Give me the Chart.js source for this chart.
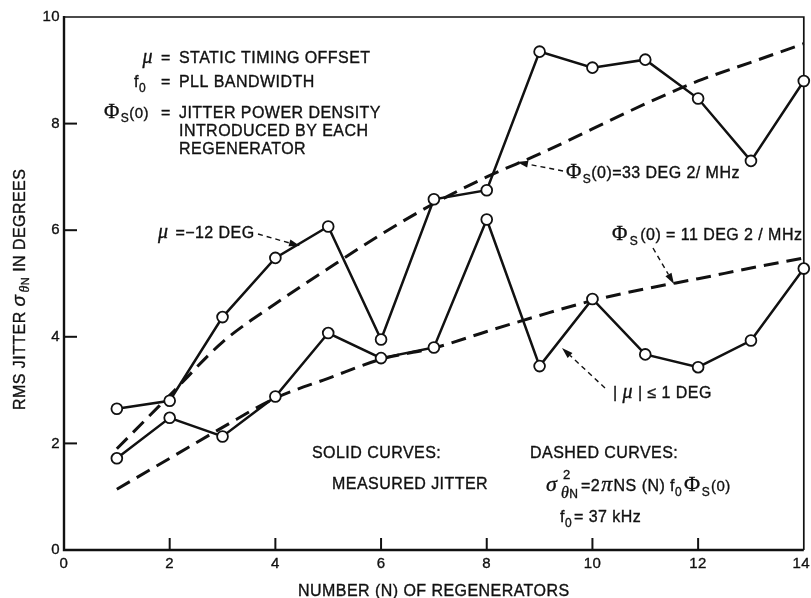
<!DOCTYPE html>
<html><head><meta charset="utf-8">
<script src="https://cdn.jsdelivr.net/npm/chart.js@4"></script>
<style>html,body{margin:0;padding:0;background:#fff;overflow:hidden}#wrap{width:811px;height:598px;position:relative}</style>
</head><body><div id="wrap"><canvas id="c" width="811" height="598"></canvas></div>
<script>
// ---- data ----
const regenerators = [1,2,3,4,5,6,7,8,9,10,11,12,13,14];
const jitterMuMinus12 = [2.65,2.8,4.37,5.48,6.07,3.95,6.58,6.75,9.35,9.05,9.2,8.47,7.3,8.8];
const jitterMuWithin1 = [1.72,2.48,2.13,2.88,4.07,3.6,3.8,6.2,3.45,4.71,3.67,3.43,3.93,5.28];
const theory33 = [1.9,2.9,3.9,4.62,5.28,5.92,6.5,7.0,7.43,7.9,8.37,8.8,9.15,9.5];
const theory11 = [1.14,1.72,2.3,2.85,3.22,3.58,3.79,4.1,4.4,4.68,4.9,5.09,5.29,5.48];
const xTickValues = [0,2,4,6,8,10,12,14];
const yTickValues = [0,2,4,6,8,10];

const INK = '#111';
const SANS = "'Liberation Sans', Arial, Helvetica, sans-serif";
const SERIF = "'Liberation Serif', 'Times New Roman', serif";

function pts(ys){ return regenerators.map((n,i)=>({x:n,y:ys[i]})); }

function txt(ctx, s, x, y){
  ctx.fillText(s, x, y);
  ctx.strokeText(s, x, y);
}
function runs(ctx, x, y, parts){
  // parts: [text, font, dy, extraGap]
  let cx = x;
  for (const p of parts){
    ctx.font = p[1];
    txt(ctx, p[0], cx, y + (p[2]||0));
    cx += ctx.measureText(p[0]).width + (p[3]||0);
  }
  return cx;
}
function runsWidth(ctx, parts){
  let w=0; for (const p of parts){ ctx.font=p[1]; w+=ctx.measureText(p[0]).width+(p[3]||0);} return w;
}
function arrow(ctx, x1,y1,x2,y2){
  ctx.save();
  ctx.strokeStyle=INK; ctx.fillStyle=INK; ctx.lineWidth=1.4; ctx.setLineDash([5,4]);
  const a=Math.atan2(y2-y1,x2-x1), L=11, W=3.5;
  const bx=x2-L*Math.cos(a), by=y2-L*Math.sin(a);
  ctx.beginPath(); ctx.moveTo(x1,y1); ctx.lineTo(bx,by); ctx.stroke();
  ctx.setLineDash([]);
  ctx.beginPath(); ctx.moveTo(x2,y2);
  ctx.lineTo(bx+W*Math.sin(a), by-W*Math.cos(a));
  ctx.lineTo(bx-W*Math.sin(a), by+W*Math.cos(a));
  ctx.closePath(); ctx.fill();
  ctx.restore();
}
function textStyle(ctx){
  ctx.fillStyle=INK; ctx.strokeStyle=INK; ctx.lineWidth=0.35; ctx.setLineDash([]);
  ctx.letterSpacing='0.45px';
}

const frame = {
  id:'frame',
  beforeDatasetsDraw(chart){
    const {ctx, chartArea:a, scales:{x,y}} = chart;
    ctx.save();
    ctx.strokeStyle=INK; ctx.fillStyle=INK;
    // box
    ctx.lineWidth=1.7;
    ctx.beginPath(); ctx.moveTo(a.left,a.top); ctx.lineTo(a.right,a.top); ctx.lineTo(a.right,a.bottom); ctx.stroke();
    ctx.lineWidth=2.4;
    ctx.beginPath(); ctx.moveTo(a.left,a.top-1); ctx.lineTo(a.left,a.bottom); ctx.lineTo(a.right,a.bottom); ctx.stroke();
    // inward ticks
    ctx.lineWidth=2;
    for (const t of y.ticks){ if(t.value<=y.min||t.value>=y.max) continue; const py=y.getPixelForValue(t.value);
      ctx.beginPath(); ctx.moveTo(a.left,py); ctx.lineTo(a.left+13,py); ctx.stroke(); }
    for (const t of x.ticks){ if(t.value<=x.min||t.value>=x.max) continue; const px=x.getPixelForValue(t.value);
      ctx.beginPath(); ctx.moveTo(px,a.bottom); ctx.lineTo(px,a.bottom-12); ctx.stroke(); }
    // tick labels
    textStyle(ctx);
    ctx.font='15px '+SANS;
    ctx.textAlign='right'; ctx.textBaseline='middle';
    for (const t of y.ticks){ txt(ctx, String(t.value), a.left-4, y.getPixelForValue(t.value)); }
    ctx.textAlign='center'; ctx.textBaseline='alphabetic';
    for (const t of x.ticks){ const s=String(t.value); const w=ctx.measureText(s).width;
      let px=x.getPixelForValue(t.value); px=Math.min(px, 810-w/2); txt(ctx, s, px, 568); }
    // axis titles
    ctx.textAlign='left';
    ctx.font='16px '+SANS;
    txt(ctx, 'NUMBER (N) OF REGENERATORS', 298, 596);
    ctx.save(); ctx.translate(25,410); ctx.rotate(-Math.PI/2);
    runs(ctx,0,0,[['RMS JITTER ','16px '+SANS],['σ','italic 19px '+SANS,0,2],['θ','italic 14px '+SERIF,4],['N','11px '+SANS,4],[' IN DEGREES','16px '+SANS]]);
    ctx.restore();
    ctx.restore();
  },
  afterDatasetsDraw(chart){
    const ctx=chart.ctx;
    ctx.save(); textStyle(ctx); ctx.textAlign='left'; ctx.textBaseline='alphabetic';
    const F='16px '+SANS;
    // legend block top-left
    let w;
    w=runsWidth(ctx,[['μ','italic 20px '+SERIF]]); runs(ctx,153-w,63,[['μ','italic 20px '+SERIF]]);
    ctx.font=F; txt(ctx,'=',161,63); txt(ctx,'STATIC TIMING OFFSET',179,63);
    runs(ctx,134,87,[['f',F],['0','12px '+SANS,5]]);
    ctx.font=F; txt(ctx,'=',161,87); txt(ctx,'PLL BANDWIDTH',179,87);
    runs(ctx,104,118,[['Φ','21px '+SERIF,0,1],['S','12px '+SANS,4],['(0)','15px '+SANS]]);
    ctx.font=F; txt(ctx,'=',161,118); txt(ctx,'JITTER POWER DENSITY',179,118);
    txt(ctx,'INTRODUCED BY EACH',179,136);
    txt(ctx,'REGENERATOR',179,154);
    // mu = -12 deg
    runs(ctx,158,238,[['μ','italic 20px '+SERIF,0,2],[' =−12 DEG',F]]);
    arrow(ctx,258,234,300,246);
    // Phi 33
    runs(ctx,566,178,[['Φ','21px '+SERIF,0,1],['S','12px '+SANS,5],['(0)=33 DEG 2/ MHz',F]]);
    arrow(ctx,563,171,517,162);
    // Phi 11
    runs(ctx,612,240,[['Φ','21px '+SERIF,0,2],['S','12px '+SANS,5,2],['(0) = 11 DEG 2 / MHz',F]]);
    arrow(ctx,653,248,674,284);
    // |mu| <= 1
    runs(ctx,613,398,[['| ',F],['μ','italic 20px '+SERIF],[' | ≤ 1 DEG',F]]);
    arrow(ctx,605,388,562,348);
    // bottom notes
    ctx.font=F;
    txt(ctx,'SOLID CURVES:',312,458);
    txt(ctx,'MEASURED JITTER',332,489);
    txt(ctx,'DASHED CURVES:',530,458);
    // formula
    ctx.font='italic 22px '+SERIF; txt(ctx,'σ',546,491);
    ctx.font='13px '+SANS; txt(ctx,'2',563,479);
    runs(ctx,561,498,[['θ','italic 16px '+SERIF],['N','12px '+SANS]]);
    runs(ctx,581,491,[['=2','16px '+SANS,0,1],['π','italic 22px '+SERIF,0,1],['NS (N) f','16px '+SANS],
      ['0','12px '+SANS,5,2],['Φ','22px '+SERIF,0,1],['S','12px '+SANS,5,1],['(0)','15px '+SANS]]);
    runs(ctx,560,522,[['f',F],['0','12px '+SANS,5,2],['= 37 kHz',F]]);
    ctx.restore();
  }
};

const solid = (data)=>({data:pts(data), borderColor:INK, borderWidth:2.5, tension:0,
  pointRadius:5.4, pointHoverRadius:5.4, pointBorderWidth:1.8, pointBackgroundColor:'#fff', pointBorderColor:INK, clip:false});
const dashed = (data)=>({data:pts(data), borderColor:INK, borderWidth:3, borderDash:[15,8],
  pointRadius:0, tension:0.4, cubicInterpolationMode:'monotone', clip:false});

new Chart(document.getElementById('c'), {
  type:'line',
  data:{datasets:[solid(jitterMuMinus12), solid(jitterMuWithin1), dashed(theory33), dashed(theory11)]},
  options:{
    responsive:false, animation:false, devicePixelRatio:1,
    layout:{padding:{top:17,right:5,left:0,bottom:0}},
    plugins:{legend:{display:false}, tooltip:{enabled:false}},
    events:[],
    scales:{
      x:{type:'linear', min:0, max:14, afterBuildTicks:s=>{s.ticks=xTickValues.map(v=>({value:v}));},
         ticks:{display:false, stepSize:2}, grid:{display:false}, border:{display:false},
         afterFit:s=>{s.height=48; s.paddingLeft=0; s.paddingRight=0;}},
      y:{type:'linear', min:0, max:10, afterBuildTicks:s=>{s.ticks=yTickValues.map(v=>({value:v}));},
         ticks:{display:false, stepSize:2}, grid:{display:false}, border:{display:false},
         afterFit:s=>{s.width=64; s.paddingTop=0; s.paddingBottom=0;}}
    }
  },
  plugins:[frame]
});
</script></body></html>
